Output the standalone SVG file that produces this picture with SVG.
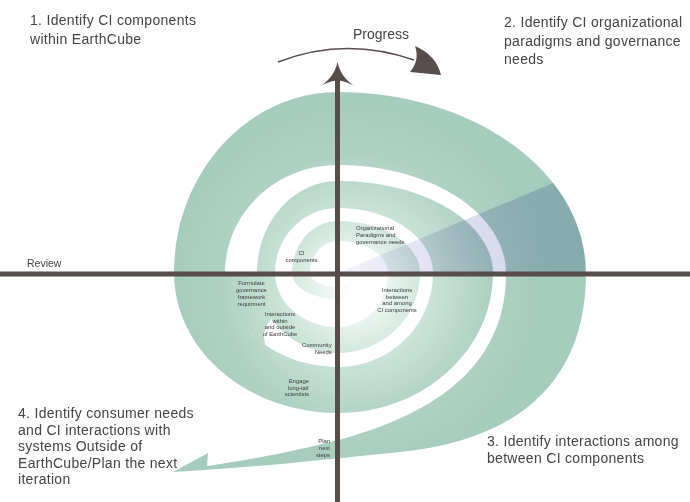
<svg xmlns="http://www.w3.org/2000/svg" width="690" height="502" viewBox="0 0 690 502">
<defs>
<radialGradient id="spiralGrad" gradientUnits="userSpaceOnUse" cx="355" cy="288" r="185">
<stop offset="0" stop-color="#ffffff"/>
<stop offset="0.15" stop-color="#eef6f2"/>
<stop offset="0.42" stop-color="#c9e2d7"/>
<stop offset="0.72" stop-color="#afd1c3"/>
<stop offset="1" stop-color="#a6ccbd"/>
</radialGradient>
<linearGradient id="wedgeGrad" gradientUnits="userSpaceOnUse" x1="338" y1="273" x2="586" y2="230">
<stop offset="0" stop-color="#f4f4fb"/>
<stop offset="0.5" stop-color="#dcdcf0"/>
<stop offset="1" stop-color="#cdd6ea"/>
</linearGradient>
<style>
.axis{stroke:#574d4c;stroke-width:5;fill:none}
.head{fill:#574d4c}
.big{font-family:"Liberation Sans",Arial,sans-serif;font-size:14px;letter-spacing:0.3px;fill:#444444}
.small{font-family:"Liberation Sans",Arial,sans-serif;font-size:5.9px;fill:#3a3a3a}
.mid{text-anchor:middle}
.end{text-anchor:end}
</style>
</defs>
<rect width="690" height="502" fill="#ffffff"/>
<g id="spiral">
<path fill="url(#spiralGrad)" d="M354,273 C354,287.4 346.8,299 338,299 C312.6,299 292,287.4 292,273 C292,244.3 312.6,221 338,221 C383.3,221 420,244.3 420,273 C420,317.2 383.3,353 338,353 C293.3,353 257,317.2 257,273 C257,222.2 293.3,181 338,181 C423.6,181 493,222.2 493,273 C493,350.3 423.6,413 338,413 C247.5,413 174,350.3 174,273 C174,173.1 247.5,92 338,92 C474.9,92 586,173.1 586,273 C586,380 520,440 400,452 C330,459 250,468 173,472 L208,453 L207,466 C250,460 300,450 338,440 C470,405 506,340 506,273 C506,213.4 430.7,165 338,165 C275.6,165 225,213.4 225,273 C225,324.9 275.6,367 338,367 C390.4,367 433,324.9 433,273 C433,237.1 390.4,208 338,208 C303.2,208 275,237.1 275,273 C275,302.8 303.2,327 338,327 C365.6,327 388,302.8 388,273 C388,255.3 365.6,241 338,241 C322.5,241 310,255.3 310,273 C310,280.7 322.5,287 338,287 C346.8,287 354,280.7 354,273 Z"/>
<path fill="url(#spiralGrad)" d="M224,273 A114,94 0 0 0 265.4,345 Q261,330 271.6,318.9 A81,80 0 0 1 258,273 Z"/>
</g>
<g id="wedge">
<path fill="url(#wedgeGrad)" style="mix-blend-mode:multiply" d="M338,273 L553.2,183 A248,181 0 0 1 585.5,273 Z"/>
</g>
<g id="connectors">
<line class="axis" x1="0" y1="274" x2="690" y2="274"/>
<line class="axis" x1="337.5" y1="78" x2="337.5" y2="502"/>
<path class="head" d="M337.5,62 Q334,79 317,88 Q329,80.5 337.5,80.5 Q346,80.5 358,88 Q341,79 337.5,62 Z"/>
<path d="M278,62 Q345,36 414,60" fill="none" stroke="#574d4c" stroke-width="1.5"/>
<path class="head" d="M415,46 Q436,55 441,75 L410,72 Q420,60 415,46 Z"/>
</g>
<g id="label-progress"><text class="big" x="353" y="39" style="letter-spacing:0">Progress</text></g>
<g id="label-review"><text class="big" x="27" y="267" style="font-size:10.5px;letter-spacing:0">Review</text></g>
<g id="label-1">
<text class="big" x="30" y="25">1. Identify CI components</text>
<text class="big" x="30" y="44">within EarthCube</text>
</g>
<g id="label-2">
<text class="big" x="504" y="27">2. Identify CI organizational</text>
<text class="big" x="504" y="46">paradigms and governance</text>
<text class="big" x="504" y="64">needs</text>
</g>
<g id="label-3">
<text class="big" x="487" y="446">3. Identify interactions among</text>
<text class="big" x="487" y="463">between CI components</text>
</g>
<g id="label-4">
<text class="big" x="18" y="418">4. Identify consumer needs</text>
<text class="big" x="18" y="434.5">and CI interactions with</text>
<text class="big" x="18" y="451">systems Outside of</text>
<text class="big" x="18" y="467.5">EarthCube/Plan the next</text>
<text class="big" x="18" y="484">iteration</text>
</g>
<g id="node-org">
<text class="small" x="356" y="229.5">Organizational</text>
<text class="small" x="356" y="236.8">Paradigms and</text>
<text class="small" x="356" y="244">governance needs</text>
</g>
<g id="node-ci">
<text class="small mid" x="301.5" y="254.7">CI</text>
<text class="small mid" x="301.5" y="262">components</text>
</g>
<g id="node-formulate">
<text class="small mid" x="251.5" y="284.7">Formulate</text>
<text class="small mid" x="251.5" y="292">governance</text>
<text class="small mid" x="251.5" y="299.2">framework</text>
<text class="small mid" x="251.5" y="306.3">requirment</text>
</g>
<g id="node-within">
<text class="small mid" x="280" y="316">Interactions</text>
<text class="small mid" x="280" y="322.7">within</text>
<text class="small mid" x="280" y="329.3">and outside</text>
<text class="small mid" x="280" y="336">of EarthCube</text>
</g>
<g id="node-community">
<text class="small end" x="331.7" y="347">Community</text>
<text class="small end" x="331.7" y="353.7">Needs</text>
</g>
<g id="node-engage">
<text class="small end" x="309" y="383">Engage</text>
<text class="small end" x="308.5" y="389.7">long-tail</text>
<text class="small end" x="309" y="396.3">scientists</text>
</g>
<g id="node-plan">
<text class="small end" x="330" y="443">Plan</text>
<text class="small end" x="330" y="450.3">next</text>
<text class="small end" x="330" y="457">steps</text>
</g>
<g id="node-between">
<text class="small mid" x="397" y="292">Interactions</text>
<text class="small mid" x="397" y="298.7">between</text>
<text class="small mid" x="397" y="305.3">and among</text>
<text class="small mid" x="397" y="312">CI components</text>
</g>
</svg>
